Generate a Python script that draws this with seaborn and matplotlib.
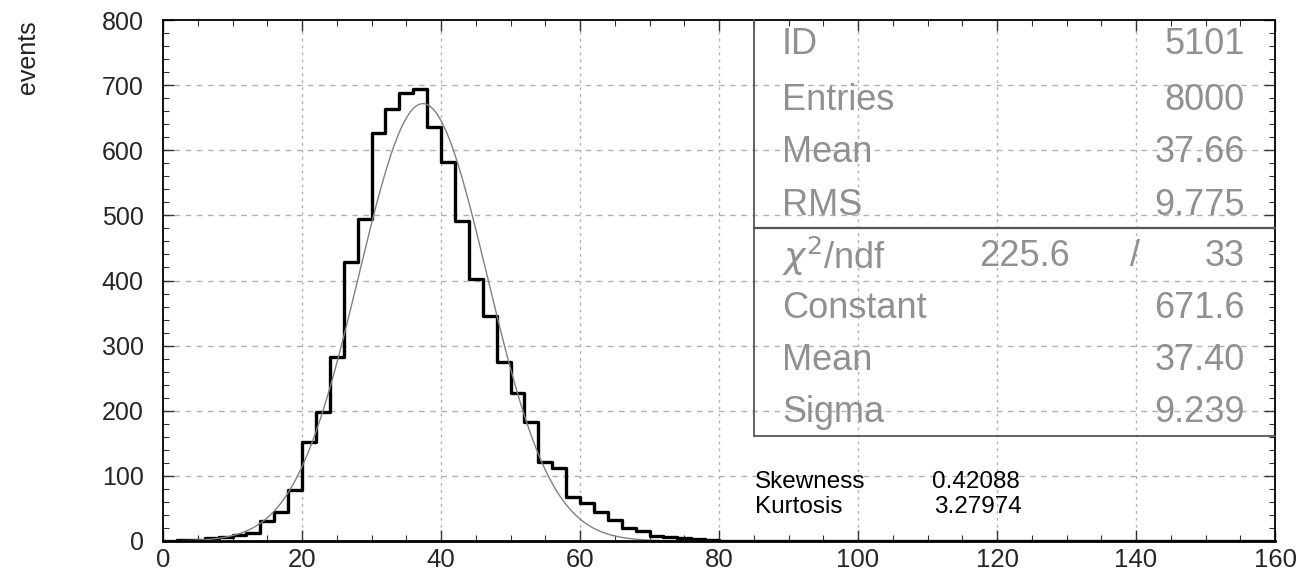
import numpy as np
import matplotlib
matplotlib.use("Agg")
import matplotlib.pyplot as plt
import seaborn as sns
from matplotlib.ticker import MultipleLocator

# ---- data ----
bin_edges = list(range(0, 162, 2))  # 0..160, width 2
counts = [0, 1, 2, 4, 6, 9, 12, 30, 44, 78,
          152, 198, 283, 429, 494, 626, 663, 688, 694, 635,
          582, 491, 403, 345, 275, 228, 183, 122, 112, 68,
          58, 44, 32, 20, 16, 8, 6, 4, 3, 1] + [0] * 40
stat_labels = ["ID", "Entries", "Mean", "RMS"]
stat_values = ["5101", "8000", "37.66", "9.775"]
fit_labels = ["Constant", "Mean", "Sigma"]
fit_values = ["671.6", "37.40", "9.239"]
chi2_text = ("225.6", "33")
fit_constant, fit_mean, fit_sigma = 671.6, 37.40, 9.239
skewness, kurtosis = "0.42088", "3.27974"

sns.set_theme(style="white")
plt.rcParams["font.family"] = ["Liberation Sans", "DejaVu Sans"]

W, H = 1302, 580
fig = plt.figure(figsize=(W / 100, H / 100), dpi=100)
L, R, B, T = 163, 1275, 541, 20
ax = fig.add_axes([L / W, 1 - B / H, (R - L) / W, (B - T) / H])

centers = [(a + b) / 2 for a, b in zip(bin_edges[:-1], bin_edges[1:])]
sns.histplot(x=centers, weights=counts, bins=bin_edges, element="step",
             fill=False, color="black", linewidth=2.4, ax=ax)

xs = np.linspace(0, 160, 800)
fit = fit_constant * np.exp(-0.5 * ((xs - fit_mean) / fit_sigma) ** 2)
sns.lineplot(x=xs, y=fit, color="#808080", linewidth=1.0, ax=ax)

ax.set_xlim(0, 160)
ax.set_ylim(0, 800)
ax.xaxis.set_major_locator(MultipleLocator(20))
ax.xaxis.set_minor_locator(MultipleLocator(5))
ax.yaxis.set_major_locator(MultipleLocator(100))
ax.yaxis.set_minor_locator(MultipleLocator(20))
ax.grid(False)
for v in range(20, 160, 20):
    ax.axvline(v, color="#b0b0b0", linewidth=1.0, linestyle=(0, (2, 3)), zorder=0)
for v in range(100, 800, 100):
    ax.axhline(v, color="#b0b0b0", linewidth=1.0, linestyle=(0, (4, 4)), zorder=0)

ax.tick_params(which="both", direction="in", top=True, right=True,
               bottom=True, left=True, color="#333333")
ax.tick_params(which="major", length=8, width=1.0)
ax.tick_params(which="minor", length=4, width=0.8)
ax.tick_params(axis="x", labelsize=18.5, pad=5)
ax.tick_params(axis="y", labelsize=18, pad=14)
for s in ax.spines.values():
    s.set_color("black")
    s.set_linewidth(1.3)
ax.spines["bottom"].set_linewidth(2.0)
ax.set_xlabel("")
ax.set_ylabel("")
fig.text(28 / W, 1 - 20 / H, "events", rotation=90, ha="center", va="top",
         fontsize=18, color="#222222")

# ---- statistics box ----
bx0, bx1, by0, by1, bdiv = 754, 1275, 20, 436, 228
def fx(px):
    return px / W
def fy(py):
    return 1 - py / H
box_col = "#555555"
fig.add_artist(plt.Line2D([fx(bx0), fx(bx0)], [fy(by0), fy(by1)], color=box_col, lw=1.3))
fig.add_artist(plt.Line2D([fx(bx0), fx(bx1)], [fy(by1), fy(by1)], color=box_col, lw=1.3))
fig.add_artist(plt.Line2D([fx(bx0), fx(bx1)], [fy(bdiv), fy(bdiv)], color=box_col, lw=1.6))

txt_col = "#909090"
rows_top = [45, 101, 153, 206]
rows_bot = [309, 361, 412]
tx_l, tx_r = 782, 1245
fs = 26
for lab, val, y in zip(stat_labels, stat_values, rows_top):
    fig.text(fx(tx_l), fy(y), lab, ha="left", va="center", fontsize=fs,
             color=txt_col)
    fig.text(fx(tx_r), fy(y), val, ha="right", va="center", fontsize=fs,
             color=txt_col)
fig.text(fx(tx_l), fy(256), r"$\chi^2$/ndf", ha="left", va="center", fontsize=fs,
         color=txt_col)
fig.text(fx(1070), fy(256), chi2_text[0], ha="right", va="center", fontsize=fs,
         color=txt_col)
fig.text(fx(1135), fy(256), "/", ha="center", va="center", fontsize=fs,
         color=txt_col)
fig.text(fx(tx_r), fy(256), chi2_text[1], ha="right", va="center", fontsize=fs,
         color=txt_col)
for lab, val, y in zip(fit_labels, fit_values, rows_bot):
    fig.text(fx(tx_l), fy(y), lab, ha="left", va="center", fontsize=fs,
             color=txt_col)
    fig.text(fx(tx_r), fy(y), val, ha="right", va="center", fontsize=fs,
             color=txt_col)

fig.text(fx(755), fy(482), "Skewness", ha="left", va="center", fontsize=17.5, color="black")
fig.text(fx(1020), fy(482), skewness, ha="right", va="center", fontsize=17.5, color="black")
fig.text(fx(755), fy(507), "Kurtosis", ha="left", va="center", fontsize=17.5, color="black")
fig.text(fx(1022), fy(507), kurtosis, ha="right", va="center", fontsize=17.5, color="black")

fig.savefig("out.png", dpi=100, facecolor="white")
